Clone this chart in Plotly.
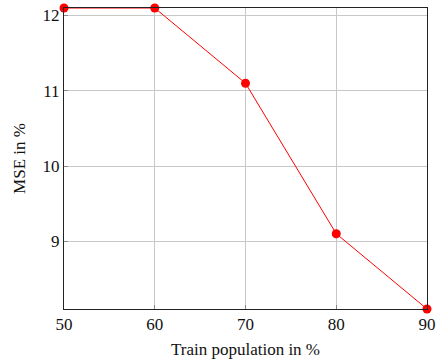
import plotly.graph_objects as go

train_pct = [50, 60, 70, 80, 90]
mse = [12.1, 12.1, 11.1, 9.1, 8.1]
x_ticks = [50, 60, 70, 80, 90]
y_ticks = [9, 10, 11, 12]

font_family = "Liberation Serif, DejaVu Serif, serif"

fig = go.Figure()
fig.add_trace(go.Scatter(
    x=train_pct, y=mse, mode="lines+markers",
    line=dict(color="#ff0000", width=1),
    marker=dict(color="#ff0000", size=9),
    cliponaxis=False,
))

axis_common = dict(
    showline=True, mirror=True, linecolor="#222", linewidth=1,
    showgrid=True, gridcolor="#c8c8c8", gridwidth=1,
    ticks="inside", ticklen=4, tickcolor="#888",
    zeroline=False, automargin=False,
    tickfont=dict(family=font_family, size=17, color="#111"),
)

fig.update_layout(
    width=436, height=360,
    margin=dict(l=64, r=9, t=8, b=51),
    paper_bgcolor="white", plot_bgcolor="white",
    showlegend=False,
    font=dict(family=font_family, color="#111"),
    xaxis=dict(range=[50, 90], tickvals=x_ticks,
               title=dict(text="Train population in %", font=dict(family=font_family, size=17), standoff=9),
               **axis_common),
    yaxis=dict(range=[8.1, 12.1], tickvals=y_ticks,
               title=dict(text="MSE in %", font=dict(family=font_family, size=17), standoff=12),
               **axis_common),
)

fig.write_html("out.html", config={"displayModeBar": False},
               post_script="document.body.style.margin='0';")
